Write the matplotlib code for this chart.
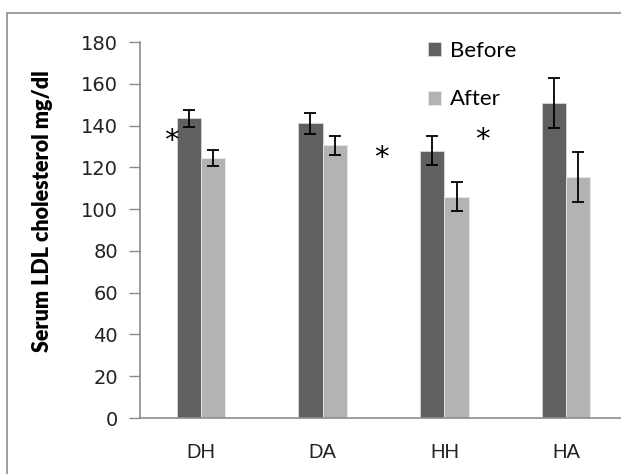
import matplotlib
matplotlib.use("Agg")
import matplotlib.pyplot as plt
import numpy as np
from matplotlib.patches import Rectangle

# values
groups = ["DH", "DA", "HH", "HA"]
before = [143.5, 141, 128, 151]
before_err = [4, 5, 7, 12]
after = [124.5, 130.5, 106, 115.5]
after_err = [4, 4.7, 7, 12]
# significance marks (x in category units, y in mg/dl)
star_x = [-0.245, 1.486, 2.316]
star_y = [132.5, 124.5, 133]

dark = "#606060"
light = "#b3b3b3"
grey = "#8c8c8c"

fig = plt.figure(figsize=(6.21, 4.74), dpi=100)
# outer chart frame (cut off on the right and bottom like the original)
fig.patches.append(Rectangle((7 / 621, -0.1), 1.2, (474 - 13) / 474 + 0.1,
                             transform=fig.transFigure, fill=False,
                             edgecolor=grey, linewidth=1.2))

ax = fig.add_axes([140 / 621, 56 / 474, 487 / 621, 376 / 474])
x = np.arange(len(groups))
w = 0.2
ekw = dict(ecolor="black", elinewidth=1.3, capsize=4, capthick=1.3)
ax.bar(x - w / 2, before, w, yerr=before_err, color=dark, edgecolor="#d8d8d8",
       linewidth=0.6, error_kw=ekw, label="Before")
ax.bar(x + w / 2, after, w, yerr=after_err, color=light, edgecolor="#e8e8e8",
       linewidth=0.6, error_kw=ekw, label="After")

for sx, sy in zip(star_x, star_y):
    ax.text(sx, sy, "*", fontsize=21, ha="center", va="center",
            family="DejaVu Sans", color="black")

ax.set_xlim(-0.5, 3.5)
ax.set_ylim(0, 180)
ax.set_yticks(range(0, 181, 20))
ax.set_xticks(x)
ax.set_xticklabels(groups, family="Liberation Sans", fontsize=14.5, color="#222222")
ax.tick_params(axis="x", length=0, pad=18)
ax.tick_params(axis="y", length=8, color=grey, width=1, labelsize=14,
               labelcolor="#222222", pad=8)
for s in ["top", "right"]:
    ax.spines[s].set_visible(False)
for s in ["left", "bottom"]:
    ax.spines[s].set_color(grey)
    ax.spines[s].set_linewidth(1.2)

fig.text(43 / 621, 1 - 211 / 474, "Serum LDL cholesterol mg/dl", rotation=90,
         ha="center", va="center", fontsize=15.5, fontweight="heavy",
         family="Lato", color="black")

ax.legend(loc="upper left", bbox_to_anchor=(268 / 487, 1.057), frameon=False,
          prop={"family": "Lato", "size": 16}, handlelength=0.6,
          handleheight=0.6, handletextpad=0.4, labelspacing=1.3)

fig.savefig("out.png", dpi=100)
